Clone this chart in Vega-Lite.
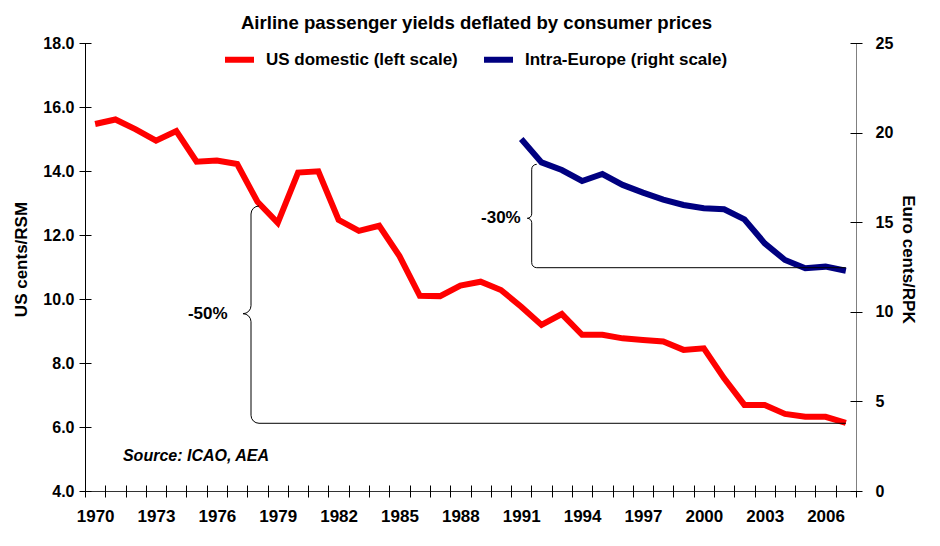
{
  "$schema": "https://vega.github.io/schema/vega-lite/v6.json",
  "width": 771,
  "height": 448,
  "autosize": {"type": "none"},
  "padding": {"left": 85, "top": 43, "right": 84, "bottom": 55},
  "background": "white",
  "title": {"text": "Airline passenger yields deflated by consumer prices", "fontSize": 18.6, "fontWeight": "bold", "anchor": "middle", "frame": "group", "baseline": "alphabetic", "offset": -13, "dx": 6, "color": "#000"},
  "config": {
    "font": "Liberation Sans",
    "view": {"stroke": null},
    "axis": {"labelFontWeight": "bold", "titleFontWeight": "bold", "labelColor": "#000", "titleColor": "#000", "tickColor": "#000", "grid": false, "labelOverlap": false, "labelFlush": false, "labelBound": false}
  },
  "datasets": {
    "us": [
      {"year": 1970, "value": 15.47, "series": "US domestic (left scale)"},
      {"year": 1971, "value": 15.61, "series": "US domestic (left scale)"},
      {"year": 1972, "value": 15.30, "series": "US domestic (left scale)"},
      {"year": 1973, "value": 14.95, "series": "US domestic (left scale)"},
      {"year": 1974, "value": 15.25, "series": "US domestic (left scale)"},
      {"year": 1975, "value": 14.29, "series": "US domestic (left scale)"},
      {"year": 1976, "value": 14.33, "series": "US domestic (left scale)"},
      {"year": 1977, "value": 14.22, "series": "US domestic (left scale)"},
      {"year": 1978, "value": 13.04, "series": "US domestic (left scale)"},
      {"year": 1979, "value": 12.38, "series": "US domestic (left scale)"},
      {"year": 1980, "value": 13.95, "series": "US domestic (left scale)"},
      {"year": 1981, "value": 13.99, "series": "US domestic (left scale)"},
      {"year": 1982, "value": 12.47, "series": "US domestic (left scale)"},
      {"year": 1983, "value": 12.13, "series": "US domestic (left scale)"},
      {"year": 1984, "value": 12.29, "series": "US domestic (left scale)"},
      {"year": 1985, "value": 11.34, "series": "US domestic (left scale)"},
      {"year": 1986, "value": 10.10, "series": "US domestic (left scale)"},
      {"year": 1987, "value": 10.09, "series": "US domestic (left scale)"},
      {"year": 1988, "value": 10.42, "series": "US domestic (left scale)"},
      {"year": 1989, "value": 10.54, "series": "US domestic (left scale)"},
      {"year": 1990, "value": 10.28, "series": "US domestic (left scale)"},
      {"year": 1991, "value": 9.76, "series": "US domestic (left scale)"},
      {"year": 1992, "value": 9.19, "series": "US domestic (left scale)"},
      {"year": 1993, "value": 9.53, "series": "US domestic (left scale)"},
      {"year": 1994, "value": 8.88, "series": "US domestic (left scale)"},
      {"year": 1995, "value": 8.88, "series": "US domestic (left scale)"},
      {"year": 1996, "value": 8.77, "series": "US domestic (left scale)"},
      {"year": 1997, "value": 8.72, "series": "US domestic (left scale)"},
      {"year": 1998, "value": 8.67, "series": "US domestic (left scale)"},
      {"year": 1999, "value": 8.41, "series": "US domestic (left scale)"},
      {"year": 2000, "value": 8.46, "series": "US domestic (left scale)"},
      {"year": 2001, "value": 7.52, "series": "US domestic (left scale)"},
      {"year": 2002, "value": 6.69, "series": "US domestic (left scale)"},
      {"year": 2003, "value": 6.69, "series": "US domestic (left scale)"},
      {"year": 2004, "value": 6.41, "series": "US domestic (left scale)"},
      {"year": 2005, "value": 6.32, "series": "US domestic (left scale)"},
      {"year": 2006, "value": 6.32, "series": "US domestic (left scale)"},
      {"year": 2007, "value": 6.13, "series": "US domestic (left scale)"}
    ],
    "eu": [
      {"year": 1991, "value": 19.64, "series": "Intra-Europe (right scale)"},
      {"year": 1992, "value": 18.34, "series": "Intra-Europe (right scale)"},
      {"year": 1993, "value": 17.91, "series": "Intra-Europe (right scale)"},
      {"year": 1994, "value": 17.30, "series": "Intra-Europe (right scale)"},
      {"year": 1995, "value": 17.69, "series": "Intra-Europe (right scale)"},
      {"year": 1996, "value": 17.08, "series": "Intra-Europe (right scale)"},
      {"year": 1997, "value": 16.65, "series": "Intra-Europe (right scale)"},
      {"year": 1998, "value": 16.26, "series": "Intra-Europe (right scale)"},
      {"year": 1999, "value": 15.96, "series": "Intra-Europe (right scale)"},
      {"year": 2000, "value": 15.78, "series": "Intra-Europe (right scale)"},
      {"year": 2001, "value": 15.72, "series": "Intra-Europe (right scale)"},
      {"year": 2002, "value": 15.16, "series": "Intra-Europe (right scale)"},
      {"year": 2003, "value": 13.82, "series": "Intra-Europe (right scale)"},
      {"year": 2004, "value": 12.89, "series": "Intra-Europe (right scale)"},
      {"year": 2005, "value": 12.43, "series": "Intra-Europe (right scale)"},
      {"year": 2006, "value": 12.52, "series": "Intra-Europe (right scale)"},
      {"year": 2007, "value": 12.29, "series": "Intra-Europe (right scale)"}
    ],
    "b50": [
      {"i": 1, "x": 1978.076, "y": 12.906},
      {"i": 2, "x": 1977.925, "y": 12.887},
      {"i": 3, "x": 1977.797, "y": 12.833},
      {"i": 4, "x": 1977.712, "y": 12.752},
      {"i": 5, "x": 1977.682, "y": 12.656},
      {"i": 6, "x": 1977.682, "y": 9.791},
      {"i": 7, "x": 1977.652, "y": 9.695},
      {"i": 8, "x": 1977.566, "y": 9.614},
      {"i": 9, "x": 1977.438, "y": 9.560},
      {"i": 10, "x": 1977.287, "y": 9.541},
      {"i": 11, "x": 1977.438, "y": 9.522},
      {"i": 12, "x": 1977.566, "y": 9.468},
      {"i": 13, "x": 1977.652, "y": 9.386},
      {"i": 14, "x": 1977.682, "y": 9.291},
      {"i": 15, "x": 1977.682, "y": 6.366},
      {"i": 16, "x": 1977.712, "y": 6.270},
      {"i": 17, "x": 1977.797, "y": 6.189},
      {"i": 18, "x": 1977.925, "y": 6.135},
      {"i": 19, "x": 1978.076, "y": 6.116},
      {"i": 20, "x": 2007.0, "y": 6.116}
    ],
    "b30": [
      {"i": 1, "x": 1991.763, "y": 18.231},
      {"i": 2, "x": 1991.669, "y": 18.210},
      {"i": 3, "x": 1991.588, "y": 18.150},
      {"i": 4, "x": 1991.535, "y": 18.059},
      {"i": 5, "x": 1991.517, "y": 17.952},
      {"i": 6, "x": 1991.517, "y": 15.463},
      {"i": 7, "x": 1991.500, "y": 15.369},
      {"i": 8, "x": 1991.453, "y": 15.290},
      {"i": 9, "x": 1991.383, "y": 15.237},
      {"i": 10, "x": 1991.300, "y": 15.218},
      {"i": 11, "x": 1991.383, "y": 15.199},
      {"i": 12, "x": 1991.453, "y": 15.146},
      {"i": 13, "x": 1991.500, "y": 15.066},
      {"i": 14, "x": 1991.517, "y": 14.972},
      {"i": 15, "x": 1991.517, "y": 12.740},
      {"i": 16, "x": 1991.535, "y": 12.633},
      {"i": 17, "x": 1991.588, "y": 12.542},
      {"i": 18, "x": 1991.669, "y": 12.482},
      {"i": 19, "x": 1991.763, "y": 12.461},
      {"i": 20, "x": 2007.0, "y": 12.461}
    ]
  },
  "layer": [
    {
      "data": {"name": "us"},
      "mark": {"type": "line", "strokeWidth": 6},
      "encoding": {
        "x": {"field": "year", "type": "quantitative", "scale": {"domain": [1969.5, 2007.5], "nice": false, "zero": false},
          "axis": {"orient": "bottom", "values": [1970, 1973, 1976, 1979, 1982, 1985, 1988, 1991, 1994, 1997, 2000, 2003, 2006], "format": "d", "ticks": false, "labelPadding": 17, "labelDx": 4, "labelFontSize": 17, "title": null, "domainColor": "#333333"}},
        "y": {"field": "value", "type": "quantitative", "scale": {"domain": [4, 18], "nice": false, "zero": false},
          "axis": {"orient": "left", "values": [4, 6, 8, 10, 12, 14, 16, 18], "format": ".1f", "ticks": false, "labelPadding": 11, "labelFontSize": 16, "title": "US cents/RSM", "titleFontSize": 17, "titlePadding": 12, "titleY": 216, "domainColor": "#000000"}},
        "color": {"field": "series", "type": "nominal",
          "scale": {"domain": ["US domestic (left scale)", "Intra-Europe (right scale)"], "range": ["#ff0000", "#000080"]},
          "legend": {"orient": "none", "legendX": 137, "legendY": -1, "direction": "horizontal", "title": null, "labelFontSize": 17, "labelFontWeight": "bold", "labelColor": "#000", "labelLimit": 400, "symbolType": "stroke", "symbolSize": 841, "symbolStrokeWidth": 6, "labelOffset": 9, "columnPadding": 14, "padding": 0}}
      }
    },
    {
      "data": {"name": "eu"},
      "mark": {"type": "line", "strokeWidth": 6},
      "encoding": {
        "x": {"field": "year", "type": "quantitative", "scale": {"domain": [1969.5, 2007.5], "nice": false, "zero": false}, "axis": null},
        "y": {"field": "value", "type": "quantitative", "scale": {"domain": [0, 25], "nice": false, "zero": false},
          "axis": {"orient": "right", "values": [0, 5, 10, 15, 20, 25], "format": "d", "ticks": false, "labelPadding": 19, "labelFontSize": 16, "title": "Euro cents/RPK", "titleFontSize": 17, "titlePadding": 6, "titleY": 216, "domainColor": "#808080"}},
        "color": {"field": "series", "type": "nominal"}
      }
    },
    {
      "data": {"name": "b50"},
      "mark": {"type": "line", "color": "#000000", "strokeWidth": 1},
      "encoding": {
        "x": {"field": "x", "type": "quantitative", "scale": {"domain": [1969.5, 2007.5], "nice": false, "zero": false},
          "axis": {"orient": "bottom", "values": [1969.5, 1970.5, 1971.5, 1972.5, 1973.5, 1974.5, 1975.5, 1976.5, 1977.5, 1978.5, 1979.5, 1980.5, 1981.5, 1982.5, 1983.5, 1984.5, 1985.5, 1986.5, 1987.5, 1988.5, 1989.5, 1990.5, 1991.5, 1992.5, 1993.5, 1994.5, 1995.5, 1996.5, 1997.5, 1998.5, 1999.5, 2000.5, 2001.5, 2002.5, 2003.5, 2004.5, 2005.5, 2006.5, 2007.5], "labels": false, "domain": false, "ticks": true, "tickSize": 12, "offset": -6, "title": null}},
        "y": {"field": "y", "type": "quantitative", "scale": {"domain": [4, 18], "nice": false, "zero": false},
          "axis": {"orient": "left", "values": [4, 6, 8, 10, 12, 14, 16, 18], "labels": false, "domain": false, "ticks": true, "tickSize": 12, "offset": -6, "title": null}},
        "order": {"field": "i", "type": "quantitative"}
      }
    },
    {
      "data": {"name": "b30"},
      "mark": {"type": "line", "color": "#000000", "strokeWidth": 1},
      "encoding": {
        "x": {"field": "x", "type": "quantitative", "scale": {"domain": [1969.5, 2007.5], "nice": false, "zero": false}, "axis": null},
        "y": {"field": "y", "type": "quantitative", "scale": {"domain": [0, 25], "nice": false, "zero": false},
          "axis": {"orient": "right", "values": [0, 5, 10, 15, 20, 25], "labels": false, "domain": false, "ticks": true, "tickSize": 12, "offset": -6, "title": null}},
        "order": {"field": "i", "type": "quantitative"}
      }
    },
    {
      "data": {"values": [{"x": 1976.53, "y": 9.54, "t": "-50%"}]},
      "mark": {"type": "text", "align": "right", "baseline": "middle", "fontSize": 17, "fontWeight": "bold", "color": "#000"},
      "encoding": {
        "x": {"field": "x", "type": "quantitative", "scale": {"domain": [1969.5, 2007.5], "nice": false, "zero": false}, "axis": null},
        "y": {"field": "y", "type": "quantitative", "scale": {"domain": [4, 18], "nice": false, "zero": false}, "axis": null},
        "text": {"field": "t"}
      }
    },
    {
      "data": {"values": [{"x": 1990.975, "y": 15.22, "t": "-30%"}]},
      "mark": {"type": "text", "align": "right", "baseline": "middle", "fontSize": 17, "fontWeight": "bold", "color": "#000"},
      "encoding": {
        "x": {"field": "x", "type": "quantitative", "scale": {"domain": [1969.5, 2007.5], "nice": false, "zero": false}, "axis": null},
        "y": {"field": "y", "type": "quantitative", "scale": {"domain": [0, 25], "nice": false, "zero": false}, "axis": null},
        "text": {"field": "t"}
      }
    },
    {
      "data": {"values": [{"x": 1971.37, "y": 5.08, "t": "Source: ICAO, AEA"}]},
      "mark": {"type": "text", "align": "left", "baseline": "middle", "fontSize": 16, "fontWeight": "bold", "fontStyle": "italic", "color": "#000"},
      "encoding": {
        "x": {"field": "x", "type": "quantitative", "scale": {"domain": [1969.5, 2007.5], "nice": false, "zero": false}, "axis": null},
        "y": {"field": "y", "type": "quantitative", "scale": {"domain": [4, 18], "nice": false, "zero": false}, "axis": null},
        "text": {"field": "t"}
      }
    }
  ],
  "resolve": {"scale": {"y": "independent"}, "axis": {"x": "independent", "y": "independent"}}
}
